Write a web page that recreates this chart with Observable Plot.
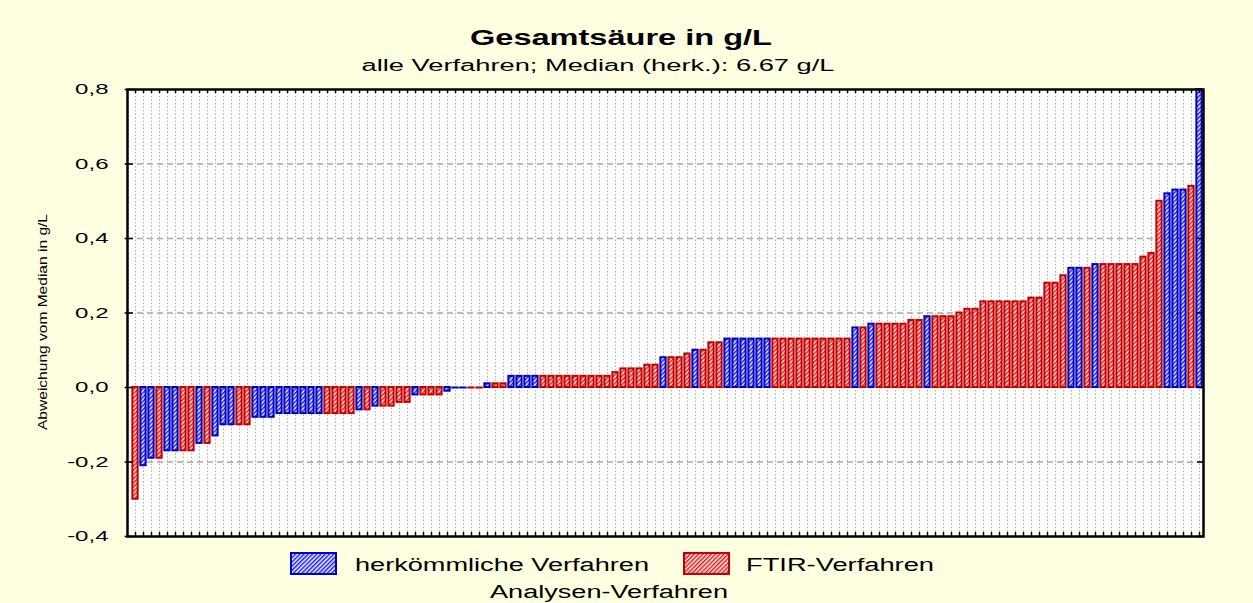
<!DOCTYPE html>
<html><head><meta charset="utf-8">
<script src="https://cdn.jsdelivr.net/npm/d3@7"></script>
<script src="https://cdn.jsdelivr.net/npm/@observablehq/plot@0.6"></script>
<style>
html,body{margin:0;padding:0;background:#ffffe1;}
#chart{position:relative;width:1253px;height:603px;overflow:hidden;}
</style></head><body><div id="chart"></div>
<script>
// H = herkömmliche Verfahren (blue), F = FTIR-Verfahren (red)
const methods = [
"F","H","H","F","H","H","F","F","H","F",
"H","H","H","F","F","H","H","H","H","H",
"H","H","H","H","F","F","F","F","H","F",
"H","F","F","F","F","H","F","F","F","H",
"H","H","F","F","H","F","F","H","H","H",
"H","F","F","F","F","F","F","F","F","F",
"F","F","F","F","F","F","H","F","F","F",
"H","F","F","F","H","H","H","H","H","H",
"F","F","F","F","F","F","F","F","F","F",
"H","F","H","F","F","F","F","F","F","H",
"F","F","F","F","F","F","F","F","F","F",
"F","F","F","F","F","F","F","H","H","F",
"H","F","F","F","F","F","F","F","F","H",
"H","H","F","H"];
const values = [
-0.30,-0.21,-0.19,-0.19,-0.17,-0.17,-0.17,-0.17,-0.15,-0.15,
-0.13,-0.10,-0.10,-0.10,-0.10,-0.08,-0.08,-0.08,-0.07,-0.07,
-0.07,-0.07,-0.07,-0.07,-0.07,-0.07,-0.07,-0.07,-0.06,-0.06,
-0.05,-0.05,-0.05,-0.04,-0.04,-0.02,-0.02,-0.02,-0.02,-0.01,
0,0,0,0,0.01,0.01,0.01,0.03,0.03,0.03,
0.03,0.03,0.03,0.03,0.03,0.03,0.03,0.03,0.03,0.03,
0.04,0.05,0.05,0.05,0.06,0.06,0.08,0.08,0.08,0.09,
0.10,0.10,0.12,0.12,0.13,0.13,0.13,0.13,0.13,0.13,
0.13,0.13,0.13,0.13,0.13,0.13,0.13,0.13,0.13,0.13,
0.16,0.16,0.17,0.17,0.17,0.17,0.17,0.18,0.18,0.19,
0.19,0.19,0.19,0.20,0.21,0.21,0.23,0.23,0.23,0.23,
0.23,0.23,0.24,0.24,0.28,0.28,0.30,0.32,0.32,0.32,
0.33,0.33,0.33,0.33,0.33,0.33,0.35,0.36,0.50,0.52,
0.53,0.53,0.54,0.85];
const yTicks = [-0.4,-0.2,0,0.2,0.4,0.6,0.8];
const yTickLabels = ["-0,4","-0,2","0,0","0,2","0,4","0,6","0,8"];
const yGrid = [-0.2,0,0.2,0.4,0.6];
const legendLabels = ["herkömmliche Verfahren","FTIR-Verfahren"];
const titleText = "Gesamtsäure in g/L";
const subtitleText = "alle Verfahren; Median (herk.): 6.67 g/L";
const yLabelText = "Abweichung vom Median in g/L";
const xLabelText = "Analysen-Verfahren";

const colors = {H: {stroke: "#0000c0", hatch: "#1f1fff"}, F: {stroke: "#c40000", hatch: "#f01818"}};
const FONT = "'Liberation Sans', Arial, Helvetica, sans-serif";

const data = values.map((v, i) => ({i, v, m: methods[i]}));
const idx = data.map(d => d.i);
const n = values.length;
const yMin = -0.4, yMax = 0.8;
const xLo = -0.5, xHi = n - 0.5;
const frameLeft = xLo - 0.5;
const half = 0.33;

const barMark = (m) => Plot.rectY(data.filter(d => d.m === m), {
  x1: d => d.i - half, x2: d => d.i + half,
  y1: 0, y2: d => Math.min(d.v, yMax),
  fill: `url(#hatch${m})`, stroke: colors[m].stroke, strokeWidth: 2
});
const zeroMark = (m) => Plot.ruleY(data.filter(d => d.m === m && d.v === 0), {
  y: 0, x1: d => d.i - half - 0.12, x2: d => d.i + half + 0.12,
  stroke: colors[m].stroke, strokeWidth: 2
});

const chart = Plot.plot({
  width: 1253, height: 603,
  marginTop: 89, marginBottom: 67, marginLeft: 127, marginRight: 50,
  style: {background: "transparent", fontFamily: FONT, color: "black"},
  x: {domain: [xLo, xHi], range: [131, 1203], axis: null},
  y: {domain: [yMin, yMax], axis: null},
  marks: [
    Plot.frame({fill: "white", stroke: "none"}),
    Plot.ruleX(idx, {x: d => d, stroke: "#b0b0b0", strokeWidth: 1, strokeDasharray: "1.5,2"}),
    Plot.ruleY(yGrid, {y: d => d, stroke: "#a8a8a8", strokeWidth: 1.6, strokeDasharray: "6,4"}),
    barMark("H"), barMark("F"),
    zeroMark("H"), zeroMark("F"),
    Plot.ruleX(idx, {x: d => d, y1: yMax, y2: yMax - 0.011, stroke: "black", strokeWidth: 1.5}),
    Plot.ruleX(idx, {x: d => d, y1: yMin, y2: yMin + 0.011, stroke: "black", strokeWidth: 1.5}),
    Plot.ruleY(yTicks, {y: d => d, x1: frameLeft - 0.3, x2: frameLeft + 0.75, stroke: "black", strokeWidth: 1.5}),
    Plot.ruleY(yTicks, {y: d => d, x1: xHi - 0.75, x2: xHi, stroke: "black", strokeWidth: 1.5}),
    Plot.frame({stroke: "black", strokeWidth: 2.5}),
    Plot.text(yTicks, {x: frameLeft, y: d => d, text: (d, i) => yTickLabels[i], textAnchor: "end", dx: -19, fontSize: 15, fill: "black"})
  ]
});

document.getElementById("chart").appendChild(chart);
const svg = d3.select(chart);

// hatch patterns
const defs = svg.insert("defs", ":first-child");
for (const m of ["H", "F"]) {
  const p = defs.append("pattern").attr("id", `hatch${m}`).attr("patternUnits", "userSpaceOnUse")
    .attr("width", 3).attr("height", 3).attr("patternTransform", "rotate(45)");
  p.append("rect").attr("width", 3).attr("height", 3).attr("fill", "white");
  p.append("rect").attr("width", 1.6).attr("height", 3).attr("fill", colors[m].hatch);
}

// stretch tick labels horizontally
svg.selectAll("g[aria-label=text] text").each(function () {
  const L = this.getComputedTextLength();
  this.setAttribute("textLength", L * 1.6);
  this.setAttribute("lengthAdjust", "spacingAndGlyphs");
});

const addText = (txt, x, y, size, len, opts = {}) => {
  const t = svg.append("text").attr("x", x).attr("y", y).text(txt)
    .attr("font-family", FONT).attr("font-size", size).attr("fill", "black")
    .attr("text-anchor", opts.anchor || "middle")
    .attr("textLength", len).attr("lengthAdjust", "spacingAndGlyphs");
  if (opts.bold) t.attr("font-weight", "bold");
  if (opts.rotate) t.attr("transform", `rotate(-90 ${x} ${y})`);
  return t;
};

addText(titleText, 621, 45, 22, 302, {bold: true});
addText(subtitleText, 598, 71, 16, 473);
addText(yLabelText, 47, 322, 13, 216, {rotate: true});

// legend
const legendItems = [
  {m: "H", label: legendLabels[0], bx: 291, tx: 355, len: 294},
  {m: "F", label: legendLabels[1], bx: 684, tx: 746, len: 188}
];
for (const it of legendItems) {
  svg.append("rect").attr("x", it.bx).attr("y", 553).attr("width", 45).attr("height", 21)
    .attr("fill", `url(#hatch${it.m})`).attr("stroke", colors[it.m].stroke).attr("stroke-width", 2);
  addText(it.label, it.tx, 571, 18, it.len, {anchor: "start"});
}
addText(xLabelText, 609, 598, 18, 238);
</script></body></html>
